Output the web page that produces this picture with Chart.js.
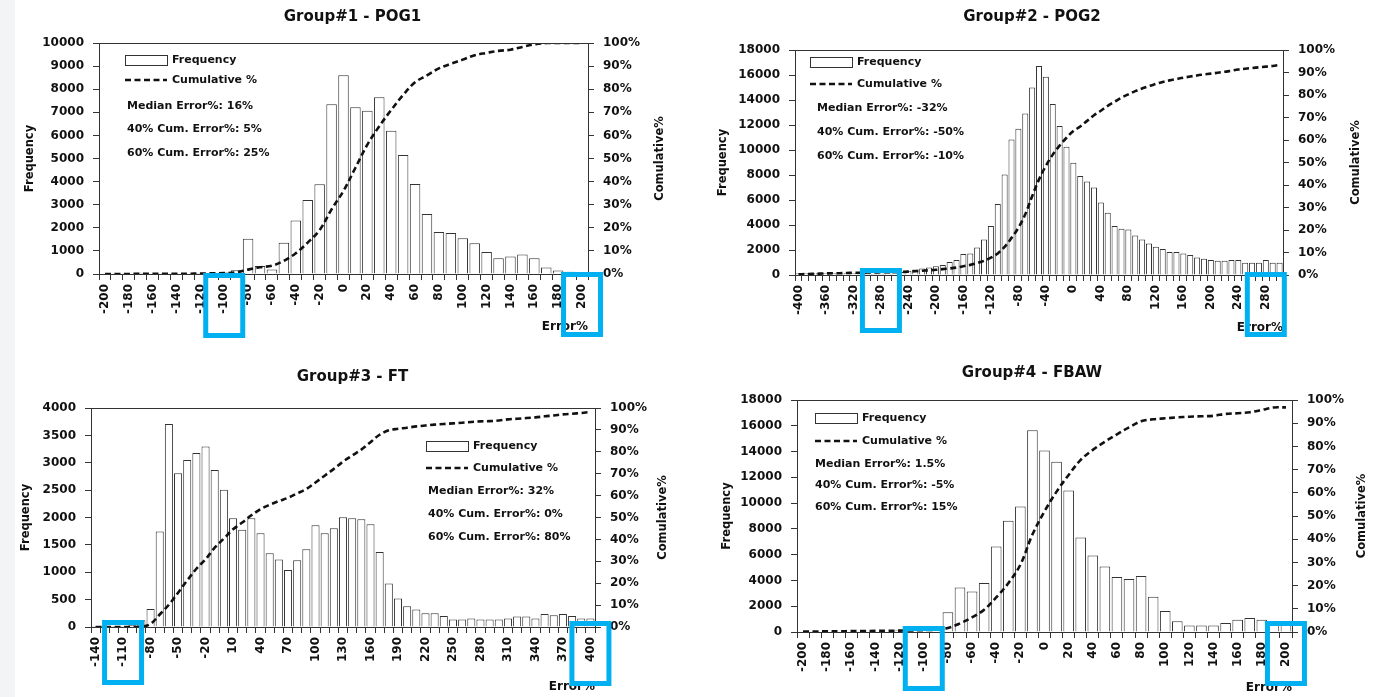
<!DOCTYPE html>
<html>
<head>
<meta charset="utf-8">
<script src="https://cdn.jsdelivr.net/npm/chart.js@4/dist/chart.umd.min.js"></script>
<style>
  html, body { margin: 0; padding: 0; background: #fff; }
  body { width: 1374px; height: 697px; position: relative; overflow: hidden; }
  #strip { position: absolute; left: 0; top: 0; width: 15px; height: 697px; background: #f3f4f6; }
  canvas { position: absolute; }
</style>
</head>
<body>
<div id="strip"></div>
<canvas id="c1" width="675" height="342" style="left:15px;top:0px"></canvas>
<canvas id="c2" width="684" height="342" style="left:690px;top:0px"></canvas>
<canvas id="c3" width="675" height="347" style="left:15px;top:350px"></canvas>
<canvas id="c4" width="684" height="347" style="left:690px;top:350px"></canvas>
<script>
// ---- data ----
const cats1 = [-200,-190,-180,-170,-160,-150,-140,-130,-120,-110,
  -100,-90,-80,-70,-60,-50,-40,-30,-20,-10,
  0,10,20,30,40,50,60,70,80,90,
  100,110,120,130,140,150,160,170,180,190,
  200];
const freq1 = [20,10,10,50,10,10,10,10,40,20,
  60,160,1530,350,200,1350,2320,3200,3880,7350,
  8600,7220,7070,7650,6200,5150,3900,2600,1820,1780,
  1550,1330,950,680,760,840,680,280,150,100,
  60];
const cum1 = [0,0,0,0.1,0.1,0.1,0.1,0.1,0.2,0.3,
  0.4,0.7,1.9,2.9,3.6,5.7,9,13.6,19,28,
  36,46,56,64,71,77.5,83,86,89,91,
  92.8,94.7,95.7,96.6,97.1,98.3,99.4,100,100,100,
  100];

const cats2 = [-400,-390,-380,-370,-360,-350,-340,-330,-320,-310,
  -300,-290,-280,-270,-260,-250,-240,-230,-220,-210,
  -200,-190,-180,-170,-160,-150,-140,-130,-120,-110,
  -100,-90,-80,-70,-60,-50,-40,-30,-20,-10,
  0,10,20,30,40,50,60,70,80,90,
  100,110,120,130,140,150,160,170,180,190,
  200,210,220,230,240,250,260,270,280,290,
  300];
const freq2 = [150,150,150,150,150,150,150,150,150,100,
  100,100,100,120,150,250,350,450,530,610,
  700,800,1040,1200,1680,1730,2200,2850,3920,5680,
  8050,10850,11700,12930,15000,16720,15870,13680,11920,10270,
  8990,7920,7490,7010,5810,4990,3920,3710,3650,3170,
  2850,2530,2270,2080,1840,1840,1730,1600,1410,1310,
  1200,1150,1150,1200,1200,990,990,990,1200,990,
  990];
const cum2 = [0.3,0.4,0.5,0.6,0.7,0.8,0.8,0.9,1.0,1.0,
  1.1,1.1,1.2,1.2,1.3,1.4,1.5,1.7,1.9,2.1,
  2.3,2.6,2.9,3.3,3.9,4.5,5.3,6.3,7.7,9.6,
  12.5,16.5,21,27,35,42.5,48.5,53.5,57.5,61,
  64,66,68.5,71,73,75.2,77,78.8,80.3,81.7,
  82.9,84,84.9,85.8,86.5,87.1,87.7,88.2,88.7,89.1,
  89.5,89.9,90.3,90.8,91.3,91.7,92,92.3,92.6,92.9,
  93.4];

const cats3 = [-140,-130,-120,-110,-100,-90,-80,-70,-60,-50,
  -40,-30,-20,-10,0,10,20,30,40,50,
  60,70,80,90,100,110,120,130,140,150,
  160,170,180,190,200,210,220,230,240,250,
  260,270,280,290,300,310,320,330,340,350,
  360,370,380,390,400];
const freq3 = [20,20,20,20,30,122,330,1745,3706,2807,
  3052,3180,3297,2869,2508,1988,1774,1988,1713,1346,
  1235,1040,1217,1419,1860,1713,1804,2006,1988,1970,
  1878,1370,795,520,379,318,251,251,202,135,
  135,153,135,135,135,153,190,190,153,239,
  214,239,202,153,153];
const cum3 = [0,0,0,0,0,0.1,1.4,5.7,10.2,15.6,
  21.3,26.6,30.9,36.2,40.4,44.6,47.7,51,53.8,55.8,
  57.5,59,61,63,66,69.1,72.2,75.5,78.3,81,
  84.4,87.8,89.8,90.5,91,91.6,92,92.4,92.7,93,
  93.3,93.6,93.9,94,94.3,94.8,95.1,95.4,95.7,96.2,
  96.6,97.1,97.4,97.7,98.2];

const cats4 = [-200,-190,-180,-170,-160,-150,-140,-130,-120,-110,
  -100,-90,-80,-70,-60,-50,-40,-30,-20,-10,
  0,10,20,30,40,50,60,70,80,90,
  100,110,120,130,140,150,160,170,180,190,
  200];
const freq4 = [60,60,60,60,60,60,60,60,120,60,
  60,100,1525,3460,3150,3800,6640,8630,9740,15660,
  14080,13200,10980,7340,5940,5090,4260,4110,4340,2740,
  1630,830,500,500,500,700,950,1080,950,650,
  600];
const cum4 = [0.2,0.2,0.3,0.3,0.4,0.4,0.5,0.5,0.6,0.7,
  0.8,1,1.7,3.7,6.3,9.6,14.9,21,29,42,
  52,60.5,67.7,74.2,78.5,82,85.2,88.2,90.8,91.7,
  92.1,92.5,92.8,93,93.2,94,94.3,94.7,95.7,96.8,
  96.8];

const titles = ["Group#1 - POG1", "Group#2 - POG2", "Group#3 - FT", "Group#4 - FBAW"];
const stats1 = ["Median Error%: 16%", "40% Cum. Error%: 5%", "60% Cum. Error%: 25%"];
const stats2 = ["Median Error%: -32%", "40% Cum. Error%: -50%", "60% Cum. Error%: -10%"];
const stats3 = ["Median Error%: 32%", "40% Cum. Error%: 0%", "60% Cum. Error%: 80%"];
const stats4 = ["Median Error%: 1.5%", "40% Cum. Error%: -5%", "60% Cum. Error%: 15%"];
const freqMax = [10000, 18000, 4000, 18000];
const freqStep = [1000, 2000, 500, 2000];
const labelEvery = [2, 4, 3, 2];
const marked1 = [-100, 200];
const marked2 = [-280, 280];
const marked3 = [-110, 400];
const marked4 = [-100, 200];

const FONT = '"DejaVu Sans", sans-serif';
const INK = '#111';

// legend, stats, right axis title and the blue marker boxes
const decor = {
  id: 'decor',
  afterDraw(chart, args, o) {
    const { ctx, chartArea: a } = chart;
    const bar = chart.data.datasets[0];
    const line = chart.data.datasets[1];
    ctx.save();
    // top border of the plot area
    ctx.strokeStyle = '#333';
    ctx.lineWidth = 1;
    ctx.beginPath();
    ctx.moveTo(a.left, a.top + 0.5);
    ctx.lineTo(a.right, a.top + 0.5);
    ctx.stroke();

    ctx.font = 'bold 11px ' + FONT;
    ctx.textBaseline = 'middle';
    ctx.textAlign = 'left';
    const lx = a.left + o.legend[0], ly = a.top + o.legend[1];
    ctx.fillStyle = '#fff';
    ctx.fillRect(lx, ly - 5, 42, 10);
    ctx.strokeStyle = '#333';
    ctx.strokeRect(lx + 0.5, ly - 4.5, 42, 10);
    ctx.fillStyle = INK;
    ctx.fillText(bar.label, lx + 47, ly);
    ctx.setLineDash(line.borderDash);
    ctx.lineWidth = line.borderWidth;
    ctx.strokeStyle = line.borderColor;
    ctx.beginPath();
    ctx.moveTo(lx, ly + o.legend[2]);
    ctx.lineTo(lx + 42, ly + o.legend[2]);
    ctx.stroke();
    ctx.setLineDash([]);
    ctx.fillText(line.label, lx + 47, ly + o.legend[2]);

    o.stats.forEach((s, i) => {
      ctx.fillText(s, a.left + o.statsAt[0], a.top + o.statsAt[1] + i * o.statsAt[2]);
    });

    // secondary axis title, read bottom to top
    ctx.save();
    ctx.font = 'bold 11.5px ' + FONT;
    ctx.translate(a.right + o.rightTitleX, (a.top + a.bottom) / 2);
    ctx.rotate(-Math.PI / 2);
    ctx.textAlign = 'center';
    ctx.fillText(o.rightTitle, 0, 0);
    ctx.restore();

    // highlight boxes around chosen tick labels
    const x = chart.scales.x;
    ctx.strokeStyle = '#00b0f0';
    ctx.lineWidth = 5;
    o.marked.forEach((v, i) => {
      const cx = x.getPixelForValue(chart.data.labels.indexOf(String(v)));
      const top = a.bottom + o.markTop[i];
      ctx.strokeRect(cx - 18.5, top + 2.5, 37, 60);
    });
    ctx.restore();
  }
};

function makeChart(id, cats, freq, cum, k, stats, marked, g) {
  const tickFont = { family: FONT, size: 12, weight: 'bold' };
  const titleFont = { family: FONT, size: 11.5, weight: 'bold' };
  new Chart(document.getElementById(id), {
    type: 'bar',
    data: {
      labels: cats.map(String),
      datasets: [
        {
          label: 'Frequency',
          data: freq,
          yAxisID: 'y',
          backgroundColor: '#fff',
          borderColor: '#333',
          borderWidth: 1,
          barPercentage: 0.88,
          categoryPercentage: 1,
          order: 1
        },
        {
          type: 'line',
          label: 'Cumulative %',
          data: cum,
          yAxisID: 'y1',
          borderColor: INK,
          borderWidth: 2.6,
          borderDash: [6, 3.5],
          pointRadius: 0,
          tension: 0.35,
          fill: false,
          order: 0
        }
      ]
    },
    options: {
      responsive: false,
      animation: false,
      layout: { padding: 0 },
      scales: {
        x: {
          afterFit: (s) => { s.height = g.xH; },
          grid: { drawOnChartArea: false, tickLength: 6, color: '#333' },
          border: { color: '#333' },
          ticks: {
            autoSkip: false,
            minRotation: 90,
            maxRotation: 90,
            padding: 4,
            color: INK,
            font: tickFont,
            callback: function (v, i) { return i % labelEvery[k] === 0 ? this.getLabelForValue(v) : ''; }
          },
          title: {
            display: true, text: 'Error%', align: 'end', color: INK,
            font: { family: FONT, size: 12, weight: 'bold' },
            padding: { top: 0, bottom: g.xTitlePad }
          }
        },
        y: {
          position: 'left',
          min: 0,
          max: freqMax[k],
          afterFit: (s) => { s.width = g.yW; },
          grid: { drawOnChartArea: false, tickLength: 6, color: '#333' },
          border: { color: '#333' },
          ticks: { stepSize: freqStep[k], padding: 9, color: INK, font: tickFont, callback: (v) => String(v) },
          title: {
            display: true, text: 'Frequency', color: INK, font: titleFont,
            padding: { top: g.yTitlePad, bottom: 0 }
          }
        },
        y1: {
          position: 'right',
          min: 0,
          max: 100,
          afterFit: (s) => { s.width = g.y1W; },
          grid: { drawOnChartArea: false, tickLength: 6, color: '#333' },
          border: { color: '#333' },
          ticks: { stepSize: 10, padding: 9, color: INK, font: tickFont, callback: (v) => v + '%' }
        }
      },
      plugins: {
        legend: { display: false },
        tooltip: { enabled: false },
        title: {
          display: true,
          text: titles[k],
          color: INK,
          font: { family: FONT, size: 15, weight: 'bold' },
          padding: { top: g.titlePad[0], bottom: g.titlePad[1] }
        },
        decor: {
          legend: g.legend,
          statsAt: g.statsAt,
          stats: stats,
          rightTitle: 'Comulative%',
          rightTitleX: g.rightTitleX,
          marked: marked,
          markTop: g.markTop
        }
      }
    },
    plugins: [decor]
  });
}

makeChart('c1', cats1, freq1, cum1, 0, stats1, marked1, {
  yW: 84, y1W: 102, xH: 68, xTitlePad: 8, yTitlePad: 8, titlePad: [8, 17],
  legend: [26, 17, 20], statsAt: [28, 63, 23.5], rightTitleX: 72, markTop: [-1, -2]
});
makeChart('c2', cats2, freq2, cum2, 1, stats2, marked2, {
  yW: 105, y1W: 91, xH: 67, xTitlePad: 7, yTitlePad: 26, titlePad: [8, 24],
  legend: [15, 12, 22], statsAt: [22, 58, 24], rightTitleX: 73, markTop: [-7, -3]
});
makeChart('c3', cats3, freq3, cum3, 2, stats3, marked3, {
  yW: 76, y1W: 95, xH: 70, xTitlePad: 3, yTitlePad: 4, titlePad: [18, 22],
  legend: [335, 38, 22], statsAt: [337, 83, 23], rightTitleX: 68, markTop: [-7, -6]
});
makeChart('c4', cats4, freq4, cum4, 3, stats4, marked4, {
  yW: 107, y1W: 82, xH: 65, xTitlePad: 2, yTitlePad: 30, titlePad: [14, 18],
  legend: [18, 18, 23], statsAt: [18, 64, 21.5], rightTitleX: 70, markTop: [-6, -11]
});
</script>
</body>
</html>
